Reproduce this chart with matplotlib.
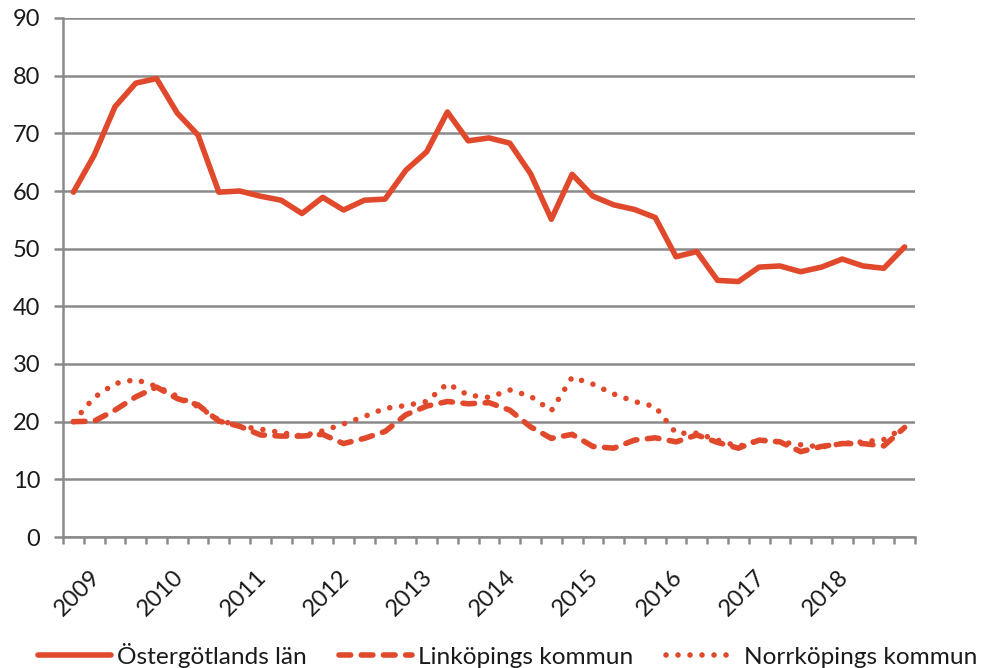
import matplotlib
matplotlib.use("Agg")
import matplotlib.pyplot as plt
import matplotlib.transforms as mtransforms
import numpy as np

plt.rcParams['font.family'] = ['Lato', 'DejaVu Sans']

years = ['2009', '2010', '2011', '2012', '2013', '2014', '2015', '2016', '2017', '2018']

ostergotland = [59.8, 66.2, 74.6, 78.7, 79.5, 73.5, 69.7, 59.8, 60.0, 59.1,
                58.4, 56.1, 58.9, 56.7, 58.4, 58.6, 63.6, 66.8, 73.7, 68.7,
                69.2, 68.3, 63.0, 55.1, 62.9, 59.1, 57.6, 56.8, 55.4, 48.6,
                49.5, 44.5, 44.3, 46.8, 47.0, 46.0, 46.8, 48.2, 47.0, 46.6,
                50.3]

linkoping = [20.0, 20.1, 22.0, 24.3, 26.0, 24.0, 22.9, 20.1, 19.2, 17.7,
             17.5, 17.5, 17.8, 16.2, 17.1, 18.3, 21.2, 22.7, 23.5, 23.1,
             23.3, 22.0, 19.1, 17.1, 17.8, 15.7, 15.4, 16.8, 17.2, 16.5,
             17.7, 16.4, 15.4, 16.8, 16.5, 14.8, 15.7, 16.2, 16.2, 15.8,
             19.0]

norrkoping = [20.0, 24.2, 26.6, 27.3, 26.1, 24.4, 22.6, 20.3, 19.2, 18.7,
              18.1, 17.5, 18.4, 19.6, 20.9, 22.3, 22.8, 23.5, 26.6, 24.6,
              24.2, 25.5, 24.4, 21.9, 27.7, 26.5, 24.8, 23.5, 22.6, 18.0,
              18.0, 16.8, 15.7, 16.8, 16.5, 16.0, 15.6, 16.2, 16.5, 16.9,
              19.0]

series_names = ['Östergötlands län', 'Linköpings kommun', 'Norrköpings kommun']

color = '#E0492B'
grid_c = '#8a8a8a'
text_c = '#1a1a1a'
lw = 4.0

fig = plt.figure(figsize=(9.9, 6.68), dpi=100)
ax = fig.add_axes([63/990, 1 - 537/668, (915 - 63)/990, (537 - 18)/668])

n = len(ostergotland)
x = np.arange(n)
ax.plot(x, ostergotland, color=color, lw=lw, solid_capstyle='round', solid_joinstyle='round',
        label=series_names[0], zorder=3)
ax.plot(x, linkoping, color=color, lw=lw, linestyle=(0, (2.1, 1.9)), dash_capstyle='round',
        dash_joinstyle='round', label=series_names[1], zorder=3)
ax.plot(x, norrkoping, color=color, lw=lw, linestyle=(0, (0.01, 2.15)), dash_capstyle='round',
        label=series_names[2], zorder=3)

ax.set_xlim(-0.5, n - 0.5)
ax.set_ylim(0, 90)
ax.set_yticks(np.arange(0, 91, 10))
ax.yaxis.grid(True, color=grid_c, lw=1.8)
ax.set_axisbelow(True)

ax.set_xticks(np.arange(-0.5, n, 1.0), minor=False)
ax.set_xticklabels([])
ax.set_xticks(np.arange(len(years)) * 4, minor=True)
ax.set_xticklabels(years, minor=True, rotation=45, ha='center', va='top', fontsize=17, color=text_c)
ax.tick_params(axis='x', which='minor', length=0, pad=21)
ax.tick_params(axis='x', which='major', length=5, width=1.8, color=grid_c, direction='out')
ax.tick_params(axis='y', length=6.5, width=1.8, color=grid_c, direction='out', labelsize=17,
               labelcolor=text_c, pad=10)

offset = mtransforms.ScaledTranslation(4/100, 0, fig.dpi_scale_trans)
for lab in ax.xaxis.get_minorticklabels():
    lab.set_transform(lab.get_transform() + offset)

for s in ['top', 'right']:
    ax.spines[s].set_visible(False)
for s in ['left', 'bottom']:
    ax.spines[s].set_color(grid_c)
    ax.spines[s].set_linewidth(1.8)

handles, labels = ax.get_legend_handles_labels()
fig.legend(handles, labels, loc='center', bbox_to_anchor=(508/990, 1 - 655/668), ncol=3,
           frameon=False, fontsize=17.6, handlelength=2.95, handletextpad=0.25,
           columnspacing=1.35, labelcolor=text_c, borderpad=0, borderaxespad=0)

fig.savefig('out.png', dpi=100)
